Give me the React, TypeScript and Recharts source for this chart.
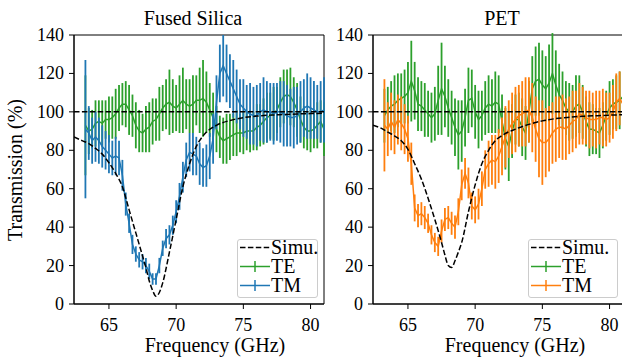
import React from "react";
import { LineChart, Line, XAxis, YAxis, ErrorBar, ReferenceArea } from "recharts";

const GREEN = "#2ca02c";
const BLUE = "#1f77b4";
const ORANGE = "#ff7f0e";
const FONT = "Liberation Serif, Times New Roman, DejaVu Serif, serif";

// measured frequencies (GHz)
const freq = [
  63.25, 63.5, 63.75,
  64, 64.25, 64.5, 64.75, 65, 65.25, 65.5, 65.75, 66, 66.25, 66.5, 66.75,
  67, 67.25, 67.5, 67.75, 68, 68.25, 68.5, 68.75, 69, 69.25, 69.5, 69.75,
  70, 70.25, 70.5, 70.75, 71, 71.25, 71.5, 71.75, 72, 72.25, 72.5, 72.75,
  73, 73.25, 73.5, 73.75, 74, 74.25, 74.5, 74.75, 75, 75.25, 75.5, 75.75,
  76, 76.25, 76.5, 76.75, 77, 77.25, 77.5, 77.75, 78, 78.25, 78.5, 78.75,
  79, 79.25, 79.5, 79.75, 80, 80.25, 80.5, 80.75, 81,
];

// Fused Silica
const silicaTE = [
  93, 90, 91,
  94, 95, 94, 96, 96, 97, 99, 102, 104, 104, 101, 98,
  93, 90, 89, 91, 92, 95, 96, 99, 102, 104, 105, 103,
  102, 104, 106, 104, 103, 104, 106, 106, 107, 105, 101, 97,
  91, 87, 85, 86, 87, 88, 89, 89, 89, 90, 90, 90,
  92, 93, 95, 97, 98, 99, 101, 105, 108, 109, 108, 105,
  101, 96, 92, 90, 90, 91, 93, 95, 91,
];
const silicaTEErr = [
  26, 12, 10,
  12, 11, 12, 10, 12, 11, 13, 12, 11, 12, 13, 11,
  12, 11, 10, 12, 13, 12, 11, 14, 12, 13, 17, 14,
  12, 15, 17, 13, 14, 15, 13, 17, 20, 16, 14, 13,
  12, 11, 12, 13, 12, 11, 12, 10, 11, 10, 11, 10,
  12, 11, 12, 13, 12, 14, 12, 13, 14, 13, 15, 13,
  14, 12, 11, 10, 11, 10, 12, 11, 14,
];
const silicaTM = [
  91, 89, 85,
  87, 85, 82, 80, 78, 76, 77, 76, 67, 52, 42, 31,
  26, 23, 22, 20, 17, 13, 13, 20, 29, 34, 36, 41,
  48, 56, 66, 75, 79, 78, 77, 73, 71, 72, 77, 86,
  105, 120, 124, 120, 116, 112, 108, 104, 102, 100, 99, 98,
  98, 100, 101, 100, 100, 99, 100, 100, 99, 98, 97, 97,
  98, 100, 102, 103, 102, 101, 100, 100, 101,
];
const silicaTMErr = [
  36, 14, 12,
  13, 12, 11, 10, 10, 9, 10, 9, 8, 6, 5, 5,
  4, 4, 4, 4, 4, 3, 3, 4, 4, 5, 5, 5,
  6, 7, 8, 9, 10, 11, 10, 11, 10, 11, 12, 13,
  14, 15, 16, 15, 14, 15, 14, 13, 15, 14, 16, 15,
  16, 15, 17, 16, 15, 16, 15, 16, 17, 16, 15, 16,
  15, 16, 15, 17, 16, 15, 14, 16, 17,
];

// PET
const petTE = [
  98, 101, 103,
  104, 106, 107, 108, 110, 116, 111, 104, 103, 101, 99, 97,
  99, 106, 112, 108, 102, 97, 92, 88, 90, 97, 106, 107,
  100, 96, 98, 102, 104, 103, 105, 104, 95, 86, 82, 90,
  96, 96, 92, 89, 100, 112, 116, 117, 114, 112, 115, 120,
  114, 109, 106, 102, 100, 100, 103, 104, 100, 95, 91, 91,
  90, 89, 93, 98, 102, 104, 105, 106, 108,
];
const petTEErr = [
  14, 12, 13,
  15, 14, 13, 14, 16, 21, 15, 14, 13, 14, 12, 13,
  14, 18, 24, 16, 15, 14, 15, 18, 16, 15, 17, 15,
  14, 15, 13, 14, 15, 14, 16, 15, 14, 16, 18, 14,
  13, 14, 15, 14, 16, 17, 18, 19, 18, 17, 20, 21,
  18, 16, 15, 14, 15, 14, 16, 15, 14, 13, 14, 13,
  12, 13, 12, 13, 14, 13, 14, 15, 14,
];
const petTM = [
  93, 91, 95,
  92, 96, 94, 91, 86, 73, 50, 46, 47, 45, 42, 36,
  32, 30, 38, 44, 45, 42, 40, 48, 62, 68, 63, 51,
  49, 52, 60, 70, 73, 75, 74, 77, 82, 87, 91, 94,
  96, 98, 99, 100, 101, 97, 91, 86, 84, 84, 86, 89,
  91, 92, 92, 91, 93, 95, 96, 99, 98, 97, 96, 96,
  96, 97, 97, 96, 97, 100, 105, 107, 104,
];
const petTMErr = [
  24, 14, 15,
  14, 13, 14, 13, 12, 11, 7, 6, 6, 6, 5, 5,
  5, 5, 6, 6, 6, 6, 6, 7, 8, 8, 8, 7,
  7, 8, 9, 10, 12, 13, 14, 14, 15, 16, 15, 16,
  17, 16, 17, 18, 17, 18, 17, 20, 22, 18, 17, 16,
  17, 16, 17, 16, 15, 16, 15, 16, 15, 14, 15, 14,
  15, 14, 15, 14, 13, 14, 15, 14, 15,
];

// simulation curves
const simFreq = [
  62.4, 63, 63.5, 64, 64.5, 65, 65.5, 66, 66.5, 67, 67.5, 67.75, 68, 68.25,
  68.5, 68.75, 69, 69.5, 70, 70.5, 71, 71.5, 72, 73, 74, 75, 76, 77, 78, 79,
  80, 81,
];
const silicaSim = [
  87, 85, 83.5, 81, 78, 73.5, 68, 61, 49, 37, 25, 19, 12, 7,
  4, 6, 11, 27, 44, 61, 73, 82, 87.5, 93, 95.5, 97, 97.8, 98.3, 98.6, 98.9,
  99.1, 99.3,
];
const petSim = [
  93, 91.5, 89.5, 87.5, 85, 80.5, 73, 65, 55, 44, 32, 25.5, 20, 19,
  22.5, 27, 32, 48, 62, 73, 80, 85, 87.7, 91, 93.5, 95.3, 96.5, 97.2, 97.7,
  98, 98.3, 98.5,
];
const flatFreq = [62.4, 81];
const flatSim = [100, 100];

const xTicks = [65, 70, 75, 80];
const yTicks = [0, 20, 40, 60, 80, 100, 120, 140];

const silicaData = freq.map((f, i) => ({
  f,
  te: silicaTE[i],
  teErr: silicaTEErr[i],
  tm: silicaTM[i],
  tmErr: silicaTMErr[i],
}));
const petData = freq.map((f, i) => ({
  f,
  te: petTE[i],
  teErr: petTEErr[i],
  tm: petTM[i],
  tmErr: petTMErr[i],
}));
const silicaSimData = simFreq.map((f, i) => ({ f, sim: silicaSim[i] }));
const petSimData = simFreq.map((f, i) => ({ f, sim: petSim[i] }));
const flatData = flatFreq.map((f, i) => ({ f, sim: flatSim[i] }));

const DASH = "5.5 2.4";
const svgText = { fontFamily: FONT, fontSize: 18 };

function XTick({ x, y, payload }: any) {
  return (
    <text x={x} y={y} dy={14} textAnchor="middle" fill="#000" style={svgText}>
      {payload.value}
    </text>
  );
}

function YTick({ x, y, payload }: any) {
  return (
    <text x={x} y={y} dy={6} textAnchor="end" fill="#000" style={svgText}>
      {payload.value}
    </text>
  );
}

function Panel({
  data,
  simData,
  tmColor,
  width,
  yWidth,
  right,
}: {
  data: any[];
  simData: any[];
  tmColor: string;
  width: number;
  yWidth: number;
  right: number;
}) {
  return (
    <LineChart
      width={width}
      height={358}
      data={data}
      margin={{ top: 35, right, bottom: 0, left: 0 }}
      style={{ fontFamily: FONT }}
    >
      <XAxis
        dataKey="f"
        type="number"
        domain={[62.4, 81]}
        ticks={xTicks}
        allowDataOverflow
        height={54}
        tick={<XTick />}
        tickSize={5}
        tickMargin={8}
        stroke="#000"
      />
      <YAxis
        type="number"
        domain={[0, 140]}
        ticks={yTicks}
        allowDataOverflow
        width={yWidth}
        tick={<YTick />}
        tickSize={5}
        tickMargin={5}
        stroke="#000"
      />
      <ReferenceArea
        x1={62.4}
        x2={81}
        y1={0}
        y2={140}
        fill="none"
        stroke="#000"
        strokeWidth={1}
      />
      <Line
        dataKey="te"
        stroke={GREEN}
        strokeWidth={1.5}
        dot={false}
        isAnimationActive={false}
      >
        <ErrorBar dataKey="teErr" width={0} stroke={GREEN} strokeWidth={1.8} />
      </Line>
      <Line
        dataKey="tm"
        stroke={tmColor}
        strokeWidth={1.5}
        dot={false}
        isAnimationActive={false}
      >
        <ErrorBar dataKey="tmErr" width={0} stroke={tmColor} strokeWidth={1.8} />
      </Line>
      <Line
        data={flatData}
        dataKey="sim"
        stroke="#000"
        strokeWidth={1.5}
        strokeDasharray={DASH}
        dot={false}
        isAnimationActive={false}
      />
      <Line
        data={simData}
        dataKey="sim"
        type="monotone"
        stroke="#000"
        strokeWidth={1.5}
        strokeDasharray={DASH}
        dot={false}
        isAnimationActive={false}
      />
    </LineChart>
  );
}

function LegendBox({
  left,
  width,
  tmColor,
}: {
  left: number;
  width: number;
  tmColor: string;
}) {
  const items = [
    { label: "Simu.", color: "#000", dashed: true },
    { label: "TE", color: GREEN, dashed: false },
    { label: "TM", color: tmColor, dashed: false },
  ];
  return (
    <div
      style={{
        position: "absolute",
        left,
        top: 239,
        width,
        height: 59,
        boxSizing: "border-box",
        border: "1px solid #cccccc",
        borderRadius: 3,
        background: "rgba(255,255,255,0.8)",
        fontFamily: FONT,
        fontSize: 20,
      }}
    >
      <div style={{ position: "relative", top: -2 }}>
        {items.map((it) => (
          <div
            key={it.label}
            style={{ display: "flex", alignItems: "center", height: 19 }}
          >
            <svg width={31} height={19} style={{ marginLeft: 2, flex: "none" }}>
              <line
                x1={0}
                x2={30}
                y1={9.5}
                y2={9.5}
                stroke={it.color}
                strokeWidth={1.5}
                strokeDasharray={it.dashed ? "5.5 2.4" : undefined}
              />
              {!it.dashed && (
                <line
                  x1={15}
                  x2={15}
                  y1={4}
                  y2={15}
                  stroke={it.color}
                  strokeWidth={1.5}
                />
              )}
            </svg>
            <span style={{ display: "block", height: 19, lineHeight: "19px" }}>
              {it.label}
            </span>
          </div>
        ))}
      </div>
    </div>
  );
}

const textStyle: React.CSSProperties = {
  position: "absolute",
  fontFamily: FONT,
  fontSize: 20,
  color: "#000",
  whiteSpace: "nowrap",
  transform: "translate(-50%, -50%)",
  lineHeight: 1,
};

export default function App() {
  return (
    <div
      style={{
        position: "relative",
        width: 622,
        height: 358,
        overflow: "hidden",
        background: "#fff",
        fontFamily: FONT,
      }}
    >
      <style>{"body{margin:0}"}</style>
      <div style={{ position: "absolute", left: 0, top: 0 }}>
        <Panel
          data={silicaData}
          simData={silicaSimData}
          tmColor={BLUE}
          width={330}
          yWidth={74}
          right={6}
        />
      </div>
      <div style={{ position: "absolute", left: 330, top: 0 }}>
        <Panel
          data={petData}
          simData={petSimData}
          tmColor={ORANGE}
          width={300}
          yWidth={43}
          right={7}
        />
      </div>
      <div style={{ ...textStyle, left: 193, top: 18 }}>Fused Silica</div>
      <div style={{ ...textStyle, left: 502, top: 18 }}>PET</div>
      <div style={{ ...textStyle, left: 215, top: 345 }}>Frequency (GHz)</div>
      <div style={{ ...textStyle, left: 515, top: 345 }}>Frequency (GHz)</div>
      <div
        style={{
          ...textStyle,
          left: 15,
          top: 170,
          transform: "translate(-50%, -50%) rotate(-90deg)",
        }}
      >
        Transmission (%)
      </div>
      <LegendBox left={237} width={81} tmColor={BLUE} />
      <LegendBox left={528} width={90} tmColor={ORANGE} />
    </div>
  );
}
